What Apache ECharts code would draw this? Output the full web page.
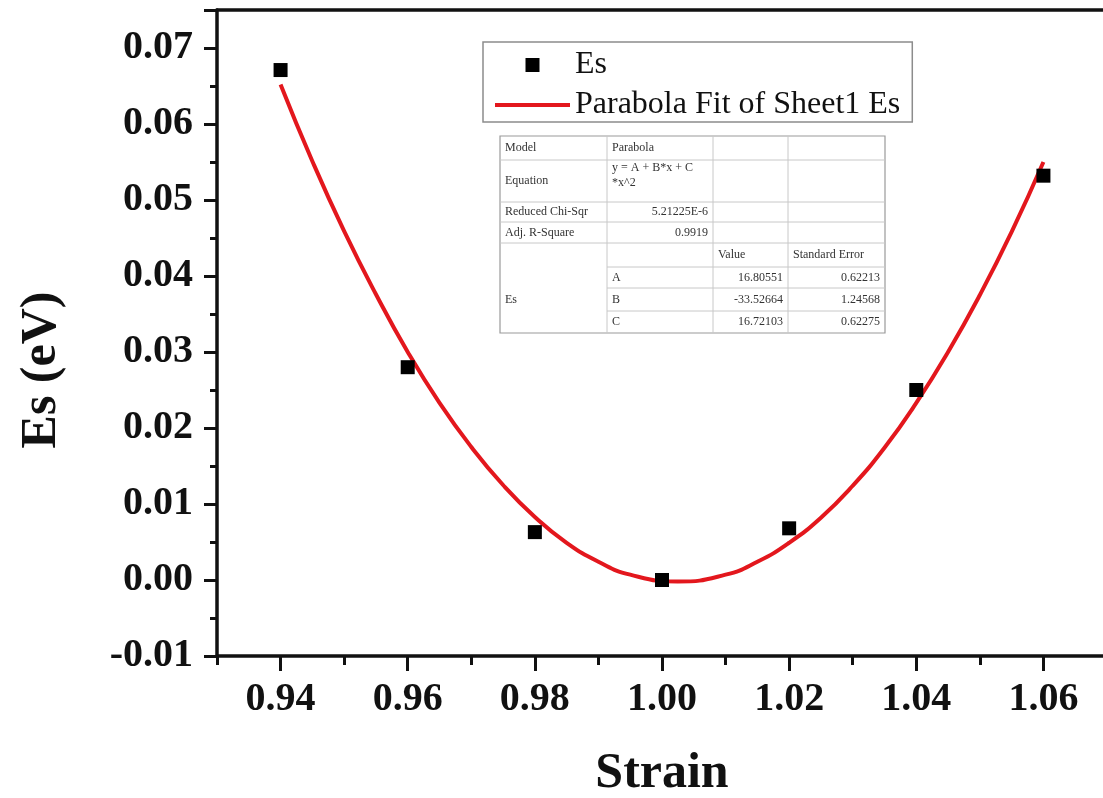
<!DOCTYPE html>
<html>
<head>
<meta charset="utf-8">
<script src="https://cdn.jsdelivr.net/npm/echarts@6/dist/echarts.min.js"></script>
<style>
  html, body { margin: 0; padding: 0; background: #fff; }
  #chart { width: 1103px; height: 798px; }
</style>
</head>
<body>
<div id="chart"></div>
<script>
// measured points
const strain = [0.94, 0.96, 0.98, 1.0, 1.02, 1.04, 1.06];
const es = [0.0671, 0.028, 0.0063, 0.0, 0.0068, 0.025, 0.0532];

// fitted curve (bottom of the curve near 1.0025)
const fitX = [
  0.94, 0.945, 0.95, 0.955, 0.96, 0.965, 0.97, 0.975, 0.98, 0.985, 0.99, 0.995, 1.0025,
  1.01, 1.015, 1.02, 1.025, 1.03, 1.035, 1.04, 1.045, 1.05, 1.055, 1.06,
];
const fitY = [
  0.0652, 0.0551, 0.0459, 0.0376, 0.03, 0.0233, 0.0175, 0.0125, 0.0083, 0.0049, 0.0024, 0.0007, -0.0002,
  0.0007, 0.0024, 0.0049, 0.0082, 0.0124, 0.0174, 0.0233, 0.03, 0.0375, 0.0458, 0.055,
];

const majorX = [0.94, 0.96, 0.98, 1.0, 1.02, 1.04, 1.06];

// fit report table
const tableRows = [
  ["Model", "Parabola", "", ""],
  ["Equation", "y = A + B*x + C\n*x^2", "", ""],
  ["Reduced Chi-Sqr", "5.21225E-6", "", ""],
  ["Adj. R-Square", "0.9919", "", ""],
  ["", "", "Value", "Standard Error"],
  ["Es", "A", "16.80551", "0.62213"],
  ["", "B", "-33.52664", "1.24568"],
  ["", "C", "16.72103", "0.62275"],
];

const FONT = "'Liberation Serif', 'Times New Roman', serif";

function buildTable() {
  const colX = [500, 607, 713, 788, 885];
  const rowY = [136, 160, 202, 222, 243, 267, 288, 311, 333];
  const lineColor = "#c8c8c8";
  const els = [];
  els.push({
    type: "rect",
    shape: { x: colX[0], y: rowY[0], width: colX[4] - colX[0], height: rowY[8] - rowY[0] },
    style: { fill: "#fff", stroke: "#9a9a9a", lineWidth: 1.2 },
  });
  for (let i = 1; i < rowY.length - 1; i++) {
    const x0 = i >= 5 ? colX[1] : colX[0];
    els.push({
      type: "line",
      shape: { x1: x0, y1: rowY[i], x2: colX[4], y2: rowY[i] },
      style: { stroke: lineColor, lineWidth: 1 },
    });
  }
  for (let j = 1; j < colX.length - 1; j++) {
    els.push({
      type: "line",
      shape: { x1: colX[j], y1: rowY[0], x2: colX[j], y2: rowY[8] },
      style: { stroke: lineColor, lineWidth: 1 },
    });
  }
  tableRows.forEach((row, i) => {
    row.forEach((txt, j) => {
      if (!txt) return;
      // numbers sit to the right of their cell, labels to the left
      const numeric = /^-?[0-9]/.test(txt);
      const x = numeric ? colX[j + 1] - 5 : colX[j] + 5;
      let y = (rowY[i] + rowY[i + 1]) / 2;
      if (i === 5 && j === 0) y = 300;
      if (i === 1 && j === 1) y = rowY[1] + 15;
      els.push({
        type: "text",
        x: x,
        y: y,
        style: {
          text: txt,
          font: "12px " + FONT,
          fill: "#333",
          align: numeric ? "right" : "left",
          verticalAlign: "middle",
          lineHeight: 15,
        },
      });
    });
  });
  return els;
}

const chart = echarts.init(document.getElementById("chart"));

const baseX = {
  type: "value",
  min: 0.93,
  max: 1.07,
  splitLine: { show: false },
};

chart.setOption({
  animation: false,
  backgroundColor: "#fff",
  grid: {
    left: 217,
    right: -4,
    top: 10,
    bottom: 142,
    containLabel: false,
    outerBoundsMode: "none",
  },
  legend: {
    left: 483,
    top: 42,
    orient: "vertical",
    padding: [7, 12, 1, 12],
    itemGap: 8,
    itemWidth: 75,
    itemHeight: 14,
    borderColor: "#8c8c8c",
    borderWidth: 1.5,
    backgroundColor: "#fff",
    textStyle: { fontFamily: FONT, fontSize: 32, color: "#111" },
    data: [
      { name: "Es", icon: "path://M0,0h10v10h-10z", symbolKeepAspect: true },
      { name: "Parabola Fit of Sheet1 Es", icon: "path://M0,0h75v4h-75z", symbolKeepAspect: true },
    ],
  },
  xAxis: [
    {
      ...baseX,
      name: "Strain",
      nameLocation: "middle",
      nameGap: 93,
      nameTextStyle: { fontFamily: FONT, fontWeight: "bold", fontSize: 50, color: "#111" },
      interval: 0.01,
      axisLine: { onZero: false, lineStyle: { color: "#111", width: 3.5 } },
      axisTick: { length: 9, lineStyle: { color: "#111", width: 3 } },
      axisLabel: { show: false },
    },
    {
      ...baseX,
      position: "bottom",
      axisLine: { show: false, onZero: false },
      axisTick: { customValues: majorX, length: 15, lineStyle: { color: "#111", width: 3 } },
      axisLabel: {
        customValues: majorX,
        margin: 24,
        fontFamily: FONT,
        fontWeight: "bold",
        fontSize: 40,
        color: "#111",
        formatter: (v) => v.toFixed(2),
      },
    },
    {
      ...baseX,
      position: "top",
      axisLine: { onZero: false, lineStyle: { color: "#111", width: 3.5 } },
      axisTick: { show: false },
      axisLabel: { show: false },
    },
  ],
  yAxis: {
    type: "value",
    min: -0.01,
    max: 0.075,
    interval: 0.01,
    name: "Es (eV)",
    nameLocation: "middle",
    nameGap: 150,
    nameTextStyle: {
      fontFamily: FONT,
      fontWeight: "bold",
      fontSize: 50,
      color: "#111",
      padding: [0, 74, 0, 0],
    },
    splitLine: { show: false },
    axisLine: { show: true, onZero: false, lineStyle: { color: "#111", width: 3.5 } },
    axisTick: { length: 13, lineStyle: { color: "#111", width: 3 } },
    minorTick: { show: true, splitNumber: 2, length: 7, lineStyle: { color: "#111", width: 3 } },
    axisLabel: {
      margin: 24,
      showMaxLabel: false,
      fontFamily: FONT,
      fontWeight: "bold",
      fontSize: 40,
      color: "#111",
      formatter: (v) => v.toFixed(2),
    },
  },
  series: [
    {
      name: "Parabola Fit of Sheet1 Es",
      type: "line",
      xAxisIndex: 0,
      data: fitX.map((x, i) => [x, fitY[i]]),
      smooth: true,
      symbol: "none",
      lineStyle: { color: "#e3171d", width: 4 },
      itemStyle: { color: "#e3171d" },
      z: 2,
    },
    {
      name: "Es",
      type: "scatter",
      xAxisIndex: 0,
      data: strain.map((x, i) => [x, es[i]]),
      symbol: "rect",
      symbolSize: 14,
      itemStyle: { color: "#000", opacity: 1 },
      z: 3,
    },
  ],
  graphic: buildTable(),
});
</script>
</body>
</html>
